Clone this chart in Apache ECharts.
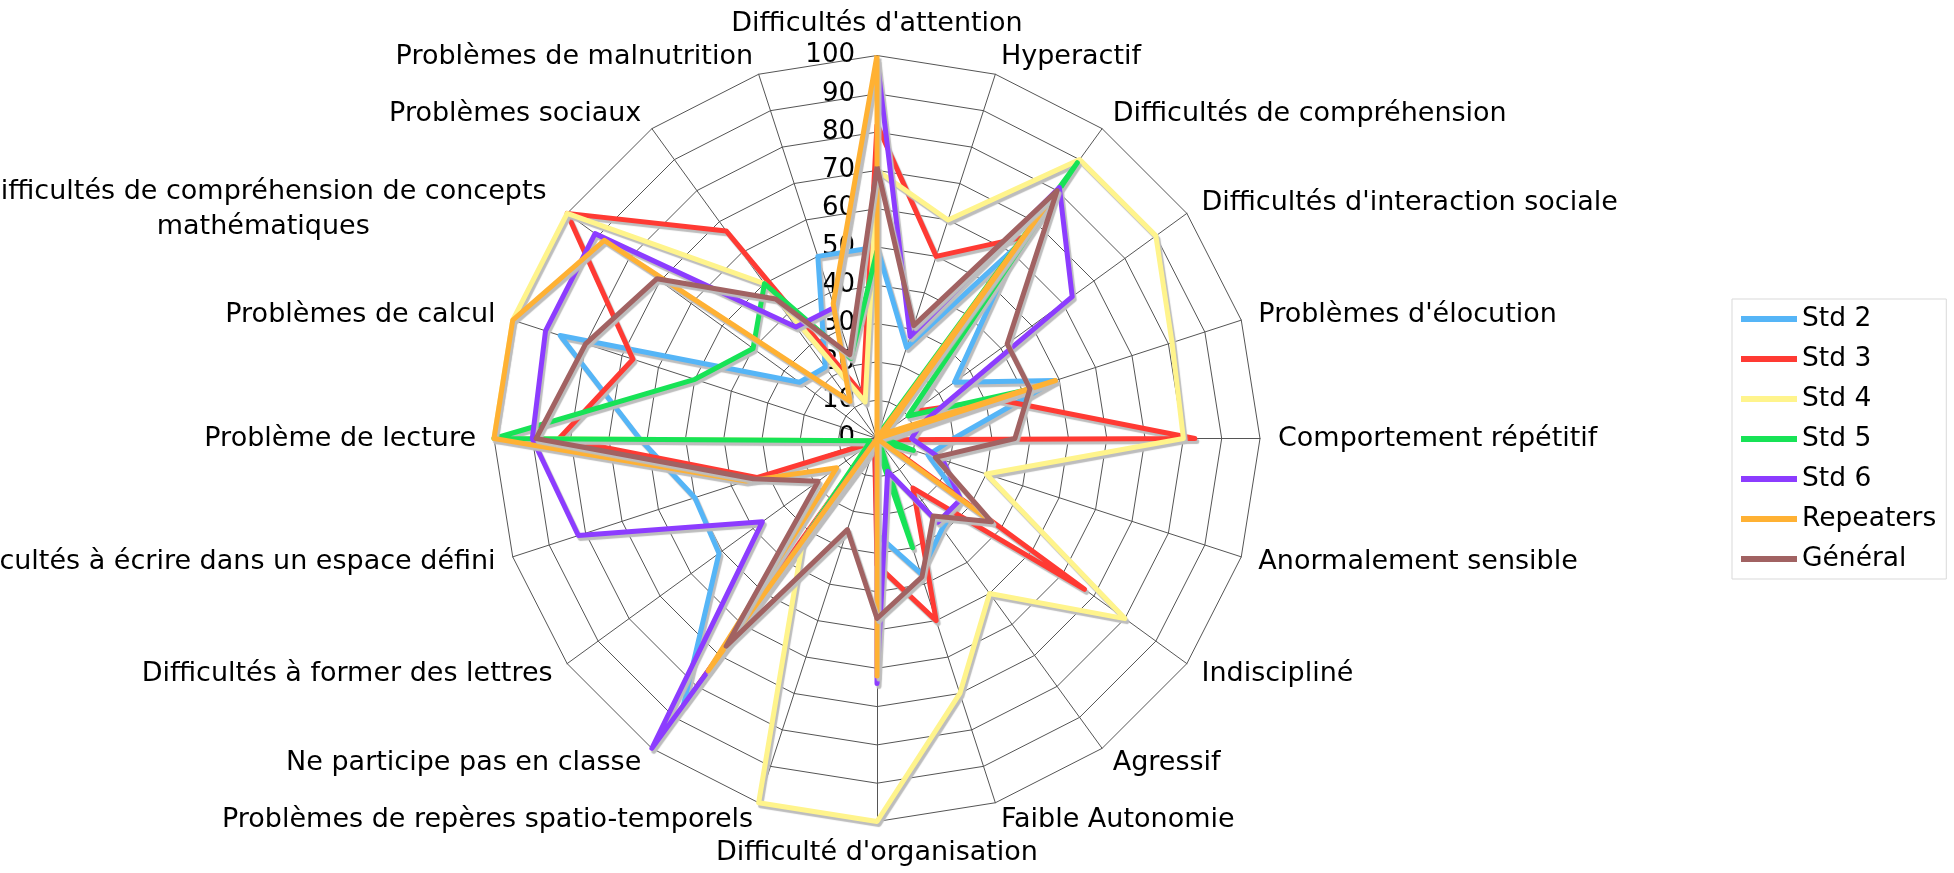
<!DOCTYPE html>
<html><head><meta charset="utf-8">
<script src="https://cdn.jsdelivr.net/npm/echarts@6/dist/echarts.min.js"></script>
<style>html,body{margin:0;padding:0;background:#fff}#c{width:1954px;height:873px}</style>
</head><body><div id="c"></div>
<script>
// Axes, listed clockwise from the top
const categories = [
  "Difficultés d'attention", "Hyperactif", "Difficultés de compréhension",
  "Difficultés d'interaction sociale", "Problèmes d'élocution", "Comportement répétitif",
  "Anormalement sensible", "Indiscipliné", "Agressif", "Faible Autonomie",
  "Difficulté d'organisation", "Problèmes de repères spatio-temporels",
  "Ne participe pas en classe", "Difficultés à former des lettres",
  "Difficultés à écrire dans un espace défini", "Problème de lecture",
  "Problèmes de calcul", "Difficultés de compréhension de concepts mathématiques",
  "Problèmes sociaux", "Problèmes de malnutrition"
];
const seriesNames = ['Std 2', 'Std 3', 'Std 4', 'Std 5', 'Std 6', 'Repeaters', 'Général'];
const std2      = [50, 25, 62, 25, 49, 20, 14, 27, 29, 37, 25, 2, 86, 51, 50, 62, 87, 25, 23, 50];
const std3      = [82, 50, 65, 12, 33, 83, 1, 67, 16, 50, 33, 2, 80, 2, 33, 83, 67, 100, 67, 12];
const std4      = [70, 60, 90, 90, 81, 80, 30, 80, 50, 70, 100, 100, 33, 3, 2, 100, 100, 100, 50, 10];
const std5      = [49, 1, 89, 10, 41, 2, 10, 2, 1, 30, 2, 2, 32, 3, 2, 100, 50, 40, 50, 22];
const std6      = [99, 28, 81, 63, 12, 9, 18, 27, 27, 9, 64, 0, 100, 37, 82, 90, 91, 91, 36, 36];
const repeaters = [100, 0, 75, 2, 49, 0, 0, 37, 0, 0, 62, 0, 75, 13, 36, 100, 100, 88, 12, 37];
const general   = [71, 31, 80, 42, 42, 36, 16, 37, 25, 38, 47, 25, 67, 19, 34, 89, 80, 71, 45, 23];
const axisMin = 0, axisMax = 100, axisStep = 10;

const seriesData = [std2, std3, std4, std5, std6, repeaters, general];
const colors = ['#55b5f7', '#ff3a33', '#fff48c', '#17e356', '#8c3cff', '#ffb133', '#a16262'];

const FONT = 'DejaVu Sans';
const CX = 877, CY = 438.5, R = 383;
const n = categories.length;
// ECharts lays radar indicators out counter-clockwise; reorder so they run clockwise.
const order = categories.map((_, k) => (n - k) % n);

function wrapName(name) {
  if (name.length <= 45) return name;
  const cut = name.lastIndexOf(' ');
  return '{s| }\n{c|' + name.slice(0, cut) + '}\n{c|' + name.slice(cut + 1) + '}';
}

const chart = echarts.init(document.getElementById('c'), null, { renderer: 'canvas' });
chart.setOption({
  animation: false,
  backgroundColor: '#ffffff',
  color: colors,
  textStyle: { fontFamily: FONT },
  legend: {
    orient: 'vertical',
    left: 1732, top: 299,
    padding: [5, 10, 5, 9],
    borderColor: '#d9d9d9', borderWidth: 1,
    itemWidth: 56, itemHeight: 6, itemGap: 10,
    icon: 'rect',
    data: seriesNames.map((name, s) => ({ name: name, itemStyle: { color: colors[s] } })),
    textStyle: { fontSize: 26.5, fontFamily: FONT, color: '#000', lineHeight: 30 }
  },
  radar: {
    center: [CX, CY], radius: R, startAngle: 90,
    shape: 'polygon', splitNumber: 10,
    indicator: order.map(i => ({ name: categories[i], min: axisMin, max: axisMax })),
    nameGap: 18,
    axisName: {
      color: '#000', fontSize: 27, fontFamily: FONT,
      formatter: (name) => wrapName(name),
      rich: {
        c: { align: 'center', fontSize: 27, fontFamily: FONT, color: '#000', lineHeight: 35, padding: [0, 6, 0, 0] },
        s: { fontSize: 6, lineHeight: 13 }
      }
    },
    axisLine: { lineStyle: { color: '#555', width: 1 } },
    splitLine: { lineStyle: { color: '#555', width: 1 } },
    splitArea: { show: false },
    axisTick: { show: false },
    axisLabel: { show: false }
  },
  polar: { center: [CX, CY], radius: R },
  angleAxis: { type: 'value', startAngle: 90, min: 0, max: 360, show: false },
  radiusAxis: {
    type: 'value', min: axisMin, max: axisMax, interval: axisStep,
    axisLine: { show: false }, axisTick: { show: false }, splitLine: { show: false },
    axisLabel: { fontSize: 26, color: '#000', fontFamily: FONT, margin: 22 }
  },
  series: seriesNames.map((name, s) => ({
    type: 'radar',
    name: name,
    symbol: 'none',
    z: 2 + s,
    itemStyle: { color: colors[s] },
    lineStyle: { color: colors[s] },
    data: [{
      name: name,
      value: order.map(i => seriesData[s][i]),
      itemStyle: { color: colors[s] },
      lineStyle: {
        color: colors[s], width: 5,
        shadowColor: '#bdbdbd', shadowBlur: 1, shadowOffsetX: 2, shadowOffsetY: 3
      }
    }]
  }))
});
</script>
</body></html>
